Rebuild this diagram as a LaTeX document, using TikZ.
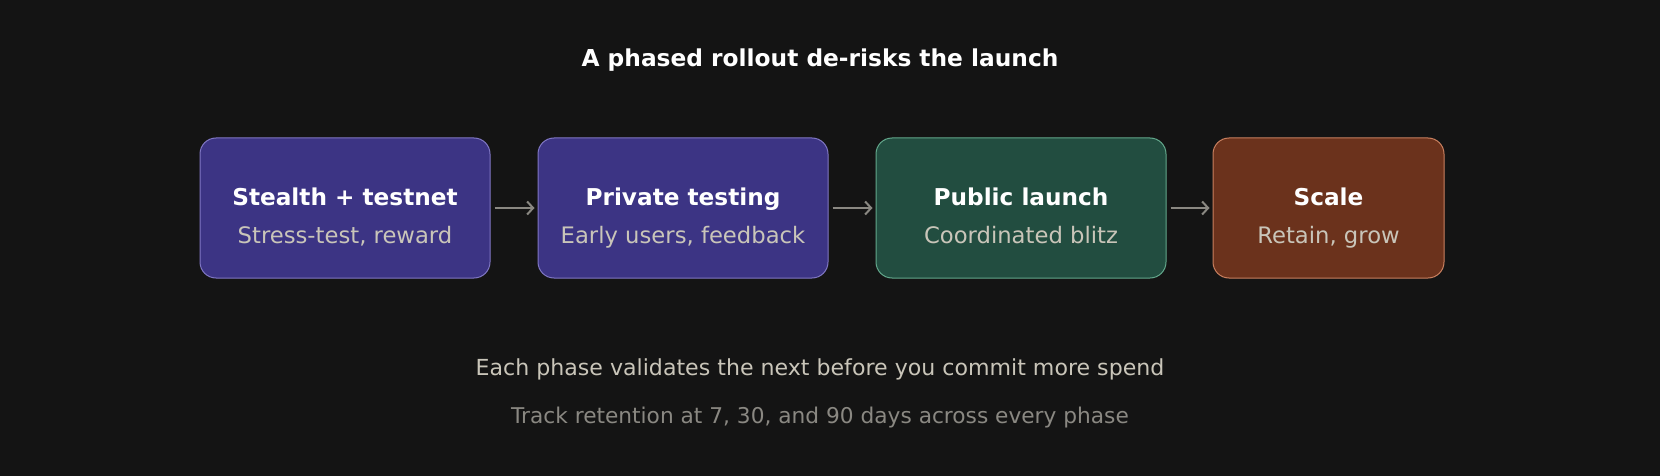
\documentclass[tikz,border=0pt]{standalone}
\usepackage{fontspec}
\setmainfont{DejaVu Sans}
\usetikzlibrary{arrows.meta}
\definecolor{bgdark}{HTML}{141414}
\definecolor{inkwhite}{HTML}{FFFFFF}
\definecolor{inknote}{HTML}{C9C5B9}
\definecolor{inkdim}{HTML}{8A8882}
\definecolor{violetfill}{HTML}{3C3484}
\definecolor{violetline}{HTML}{8077C4}
\definecolor{greenfill}{HTML}{224D40}
\definecolor{greenline}{HTML}{63A88C}
\definecolor{rustfill}{HTML}{6B321C}
\definecolor{rustline}{HTML}{C9805F}
\tikzset{
  phase/.style={draw, line width=1pt, rounded corners=16pt, minimum height=140pt, inner sep=0pt},
  phasename/.style={anchor=base, text=inkwhite, font=\fontsize{23.2}{28}\selectfont\bfseries},
  phasenote/.style={anchor=base, text=inknote, font=\fontsize{22.7}{27}\selectfont},
  flow/.style={draw=inkdim, line width=2pt, -{Straight Barb[length=6pt,width=13pt]}, shorten <=4pt, shorten >=3pt}
}
\begin{document}
\begin{tikzpicture}[x=1pt,y=-1pt]
    \fill[bgdark] (0,0) rectangle (1660,476);
    \node[anchor=base, text=inkwhite, font=\fontsize{23.3}{28}\selectfont\bfseries] (head) at (820,67) {A phased rollout de-risks the launch};

    \node[phase, fill=violetfill, draw=violetline, minimum width=290pt] (stealth) at (345,208) {};
    \node[phase, fill=violetfill, draw=violetline, minimum width=290pt] (private) at (683,208) {};
    \node[phase, fill=greenfill, draw=greenline, minimum width=290pt] (public) at (1021,208) {};
    \node[phase, fill=rustfill, draw=rustline, minimum width=231pt] (scale) at (1328.5,208) {};

    \node[phasename] (stealth-name) at (345,205) {Stealth + testnet};
    \node[phasenote] (stealth-note) at (345,243) {Stress-test, reward};
    \node[phasename] (private-name) at (683,205) {Private testing};
    \node[phasenote] (private-note) at (683,243) {Early users, feedback};
    \node[phasename] (public-name) at (1021,205) {Public launch};
    \node[phasenote] (public-note) at (1021,243) {Coordinated blitz};
    \node[phasename] (scale-name) at (1328.5,205) {Scale};
    \node[phasenote] (scale-note) at (1328.5,243) {Retain, grow};

    \draw[flow] (stealth) -- (private);
    \draw[flow] (private) -- (public);
    \draw[flow] (public) -- (scale);

    \node[anchor=base, text=inknote, font=\fontsize{22.1}{27}\selectfont] (moral) at (820,375) {Each phase validates the next before you commit more spend};
    \node[anchor=base, text=inkdim, font=\fontsize{21.7}{26}\selectfont] (metric) at (820,423) {Track retention at 7, 30, and 90 days across every phase};
\end{tikzpicture}
\end{document}
